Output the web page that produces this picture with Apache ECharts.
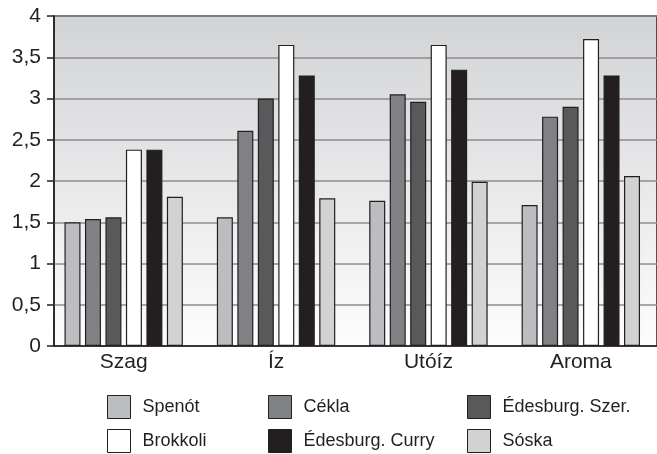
<!DOCTYPE html>
<html>
<head>
<meta charset="utf-8">
<script src="https://cdn.jsdelivr.net/npm/echarts@6/dist/echarts.min.js"></script>
<style>
    html, body { margin: 0; padding: 0; background: #fff; }
    #chart { width: 657px; height: 454px; }
</style>
</head>
<body>
<div id="chart"></div>
<script>
    var categories = ['Szag', 'Íz', 'Utóíz', 'Aroma'];
    var spenot = [1.50, 1.56, 1.76, 1.71];
    var cekla = [1.54, 2.61, 3.05, 2.78];
    var edesSzer = [1.56, 3.00, 2.96, 2.90];
    var brokkoli = [2.38, 3.65, 3.65, 3.72];
    var edesCurry = [2.38, 3.28, 3.35, 3.28];
    var soska = [1.81, 1.79, 1.99, 2.06];
    var yTicks = [0, 0.5, 1, 1.5, 2, 2.5, 3, 3.5, 4];

    var seriesNames = ['Spenót', 'Cékla', 'Édesburg. Szer.', 'Brokkoli', 'Édesburg. Curry', 'Sóska'];
    var seriesData = [spenot, cekla, edesSzer, brokkoli, edesCurry, soska];
    var colors = ['#bcbdc0', '#808184', '#58595b', '#ffffff', '#231f20', '#d1d2d4'];

    var sans = '"Liberation Sans", Arial, sans-serif';

    var myChart = echarts.init(document.getElementById('chart'));

    var series = [];
    for (var i = 0; i < seriesNames.length; i++) {
        series.push({
            name: seriesNames[i],
            type: 'bar',
            xAxisIndex: 0,
            yAxisIndex: 0,
            data: seriesData[i],
            barWidth: 16,
            barGap: '28%',
            itemStyle: {
                color: colors[i],
                borderColor: '#231f20',
                borderWidth: 1.2
            }
        });
    }

    // one legend per column, two rows each
    function legendCol(names, left) {
        return {
            orient: 'vertical',
            left: left,
            top: 395,
            padding: 0,
            itemWidth: 23,
            itemHeight: 23,
            itemGap: 10,
            icon: 'rect',
            selectedMode: false,
            data: names,
            itemStyle: { borderColor: '#231f20', borderWidth: 1 },
            textStyle: {
                fontFamily: sans,
                fontSize: 18,
                lineHeight: 23,
                color: '#231f20',
                padding: [0, 0, 0, 7]
            }
        };
    }

    myChart.setOption({
        animation: false,
        grid: [
            // bars
            { left: 47.5, width: 612, top: 16, bottom: 108, show: false },
            // frame, background and value axis
            {
                left: 54, right: -5, top: 16, bottom: 108, show: true,
                borderColor: '#231f20', borderWidth: 1.5,
                backgroundColor: new echarts.graphic.LinearGradient(0, 0, 0, 1, [
                    { offset: 0, color: '#d2d3d5' },
                    { offset: 1, color: '#fdfdfd' }
                ])
            }
        ],
        legend: [
            legendCol([seriesNames[0], seriesNames[3]], 107),
            legendCol([seriesNames[1], seriesNames[4]], 268),
            legendCol([seriesNames[2], seriesNames[5]], 467)
        ],
        xAxis: [
            {
                gridIndex: 0, type: 'category', data: categories,
                axisLine: { show: false }, axisTick: { show: false },
                axisLabel: { fontFamily: sans, fontSize: 21, color: '#231f20', margin: 6 }
            },
            {
                gridIndex: 1, type: 'value', min: 0, max: 1,
                axisLine: { show: true, lineStyle: { color: '#231f20', width: 1.5 } },
                axisTick: { show: false }, axisLabel: { show: false }, splitLine: { show: false }
            }
        ],
        yAxis: [
            { gridIndex: 0, type: 'value', min: 0, max: 4, interval: 0.5, show: false },
            {
                gridIndex: 1, type: 'value', min: 0, max: 4, interval: 0.5,
                axisLine: { show: true, lineStyle: { color: '#231f20', width: 1.5 } },
                axisTick: { show: true, length: 7, lineStyle: { color: '#231f20', width: 1.5 } },
                axisLabel: {
                    fontFamily: sans, fontSize: 21, color: '#231f20', margin: 13,
                    formatter: function (v) {
                        return yTicks.indexOf(v) >= 0 ? String(v).replace('.', ',') : '';
                    }
                },
                splitLine: { show: true, lineStyle: { color: '#8c8d8f', width: 1.5 } }
            }
        ],
        series: series
    });
</script>
</body>
</html>
